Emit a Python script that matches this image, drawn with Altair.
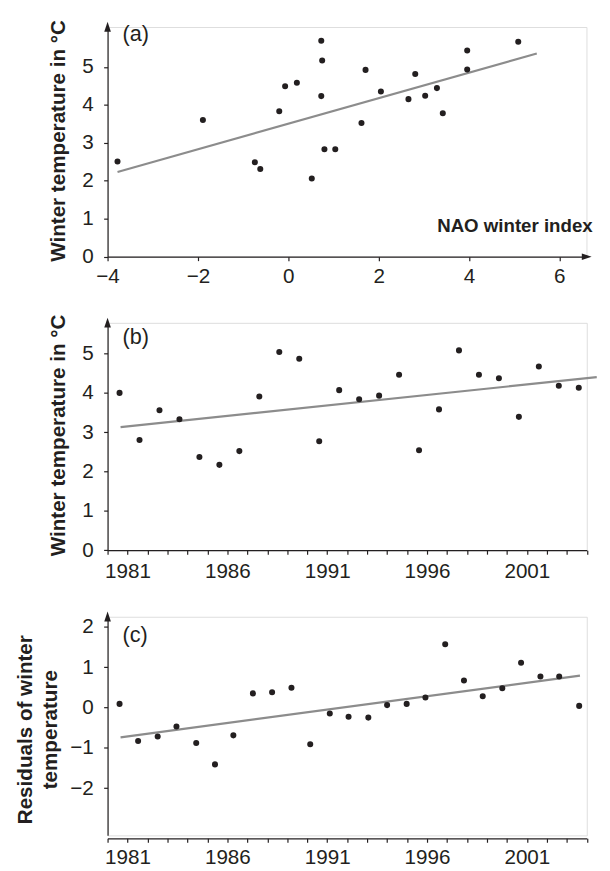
import altair as alt
import pandas as pd

# ---------------- data ----------------
panel_labels = ["(a)", "(b)", "(c)"]
nao_title = "NAO winter index"
temp_title = "Winter temperature in °C"
resid_title = ["Residuals of winter", "temperature"]

# panel (a): winter temperature vs NAO winter index
nao_index = [-3.78, -1.89, -0.74, -0.62, -0.20, -0.07, 0.19, 0.52, 0.73, 0.75,
             0.73, 0.80, 1.04, 1.62, 1.71, 2.05, 2.66, 2.81, 3.03, 3.29,
             3.42, 3.96, 3.96, 5.09]
temp_vs_nao = [2.51, 3.60, 2.49, 2.31, 3.83, 4.49, 4.58, 2.06, 5.69, 5.17,
               4.23, 2.83, 2.83, 3.52, 4.92, 4.35, 4.15, 4.81, 4.24, 4.44,
               3.78, 5.43, 4.93, 5.66]
fit_a_x = [-3.78, 5.50]
fit_a_y = [2.23, 5.35]

# panel (b): winter temperature by winter
winter_time_b = [1980.6, 1981.6, 1982.6, 1983.6, 1984.6, 1985.6, 1986.6, 1987.6,
                 1988.6, 1989.6, 1990.6, 1991.6, 1992.6, 1993.6, 1994.6, 1995.6,
                 1996.6, 1997.6, 1998.6, 1999.6, 2000.6, 2001.6, 2002.6, 2003.6]
temp_by_year = [4.00, 2.80, 3.56, 3.33, 2.37, 2.17, 2.52, 3.91, 5.04, 4.87,
                2.77, 4.07, 3.84, 3.93, 4.46, 2.54, 3.58, 5.08, 4.46, 4.37,
                3.39, 4.67, 4.18, 4.13]
fit_b_x = [1980.65, 2004.5]
fit_b_y = [3.13, 4.40]

# panel (c): residuals of winter temperature
winter_time_c = [1980.60, 1981.53, 1982.51, 1983.45, 1984.44, 1985.38, 1986.30,
                 1987.28, 1988.24, 1989.21, 1990.15, 1991.13, 1992.07, 1993.06,
                 1994.00, 1994.98, 1995.92, 1996.91, 1997.85, 1998.79, 1999.77,
                 2000.71, 2001.68, 2002.62, 2003.62]
residuals = [0.09, -0.83, -0.72, -0.47, -0.88, -1.41, -0.69, 0.35, 0.38, 0.49,
             -0.91, -0.15, -0.23, -0.25, 0.06, 0.09, 0.25, 1.57, 0.67, 0.28,
             0.48, 1.11, 0.77, 0.77, 0.04]
fit_c_x = [1980.65, 2003.66]
fit_c_y = [-0.74, 0.79]

# axis ticks
nao_ticks = [-4, -2, 0, 2, 4, 6]
temp_ticks = [0, 1, 2, 3, 4, 5]
resid_ticks = [-2, -1, 0, 1, 2]
year_ticks = list(range(1980, 2005))
year_labels = [1981, 1986, 1991, 1996, 2001]

# ---------------- styling ----------------
FONT = "Liberation Sans"
INK = "#231f20"
GREY = "#8c8c8c"
W = 487.5
HA, HB, HC = 233.7, 231.3, 222.4
ARROW_UP = "M0,-1L0.64,0.9L-0.64,0.9Z"
ARROW_RIGHT = "M1,0L-0.9,0.64L-0.9,-0.64Z"
DOT = 38


def axis(**kw):
    base = dict(grid=False, domainColor=INK, domainWidth=1.2, tickColor=INK,
                tickWidth=1.2, tickSize=4, labelFont=FONT, labelFontSize=21,
                labelColor=INK, titleFont=FONT, titleFontSize=21,
                titleFontWeight="bold", titleColor=INK, labelFlush=False,
                labelOverlap=False)
    base.update(kw)
    return alt.Axis(**base)


one = pd.DataFrame({"k": [0]})
year_expr = "indexof(%s, datum.value) >= 0 ? datum.label : ''" % str(year_labels)


def up_arrow():
    return alt.Chart(one).mark_point(shape=ARROW_UP, filled=True, size=111,
                                     color=INK, opacity=1, strokeWidth=0).encode(
        x=alt.value(0), y=alt.value(0))


def panel_text(label, x, y):
    return alt.Chart(one).mark_text(text=label, align="left", baseline="middle",
                                    font=FONT, fontSize=22, color=INK).encode(
        x=alt.value(x), y=alt.value(y))


def fit_line(xs, ys, xname, yname, xenc, yenc):
    df = pd.DataFrame({xname: xs, yname: ys})
    return alt.Chart(df).mark_line(color=GREY, strokeWidth=2.2).encode(x=xenc, y=yenc)


# ---------------- panel (a) ----------------
df_a = pd.DataFrame({"nao": nao_index, "temp": temp_vs_nao})
xa = alt.X("nao:Q", scale=alt.Scale(domain=[-4, 6.6], nice=False, zero=False),
           axis=axis(values=nao_ticks, title=None, labelPadding=5.5))
ya = alt.Y("temp:Q", scale=alt.Scale(domain=[0, 6.05], nice=False),
           axis=axis(values=temp_ticks, title=temp_title, labelPadding=10.5,
                     titleX=-44.3, titleY=115.4, titleBaseline="alphabetic"))
pts_a = alt.Chart(df_a).mark_circle(size=DOT, color=INK, opacity=1).encode(x=xa, y=ya)
fit_a = fit_line(fit_a_x, fit_a_y, "nao", "temp", xa, ya)
right_arrow = alt.Chart(one).mark_point(shape=ARROW_RIGHT, filled=True, size=111,
                                        color=INK, opacity=1, strokeWidth=0).encode(
    x=alt.value(W - 0.3), y=alt.value(HA))
nao_lbl = alt.Chart(one).mark_text(text=nao_title, align="right", baseline="alphabetic",
                                   font=FONT, fontSize=19, fontWeight="bold",
                                   color=INK).encode(x=alt.value(493.5), y=alt.value(208.1))
panel_a = alt.layer(fit_a, pts_a, up_arrow(), right_arrow, nao_lbl,
                    panel_text(panel_labels[0], 15.2, 7.6)).properties(width=W - 0.3, height=HA)

# ---------------- panel (b) ----------------
df_b = pd.DataFrame({"t": winter_time_b, "temp": temp_by_year})
xb = alt.X("t:Q", scale=alt.Scale(domain=[1980, 2004], nice=False, zero=False),
           axis=axis(values=year_ticks, format="d", labelExpr=year_expr, title=None,
                     labelPadding=7))
yb = alt.Y("temp:Q", scale=alt.Scale(domain=[0, 5.78], nice=False),
           axis=axis(values=temp_ticks, title=temp_title, labelPadding=10.5,
                     titleX=-44.3, titleY=114.0, titleBaseline="alphabetic"))
pts_b = alt.Chart(df_b).mark_circle(size=DOT, color=INK, opacity=1).encode(x=xb, y=yb)
fit_b = fit_line(fit_b_x, fit_b_y, "t", "temp", xb, yb)
panel_b = alt.layer(fit_b, pts_b, up_arrow(),
                    panel_text(panel_labels[1], 15.2, 14.0)).properties(width=W, height=HB)

# ---------------- panel (c) ----------------
df_c = pd.DataFrame({"t": winter_time_c, "res": residuals})
xc = alt.X("t:Q", scale=alt.Scale(domain=[1980, 2004], nice=False, zero=False),
           axis=axis(values=year_ticks, format="d", labelExpr=year_expr, title=None,
                     labelPadding=4.5, offset=3))
yc = alt.Y("res:Q", scale=alt.Scale(domain=[-3.17, 2.25], nice=False, zero=False),
           axis=axis(values=resid_ticks, title=resid_title, labelPadding=10.5,
                     titleX=-77.4, titleY=114.4, titleBaseline="alphabetic",
                     titleLineHeight=25.3))
pts_c = alt.Chart(df_c).mark_circle(size=DOT, color=INK, opacity=1).encode(x=xc, y=yc)
fit_c = fit_line(fit_c_x, fit_c_y, "t", "res", xc, yc)
panel_c = alt.layer(fit_c, pts_c, up_arrow(),
                    panel_text(panel_labels[2], 15.2, 19.1)).properties(width=W, height=HC)

chart = alt.vconcat(panel_a, panel_b, panel_c, spacing=67, bounds="flush").properties(
    padding={"left": 6.3, "top": 2.8, "right": 0, "bottom": 0}
).configure_view(strokeWidth=0).configure(font=FONT)

chart.save("out.html", embed_options={"renderer": "svg", "actions": False})
